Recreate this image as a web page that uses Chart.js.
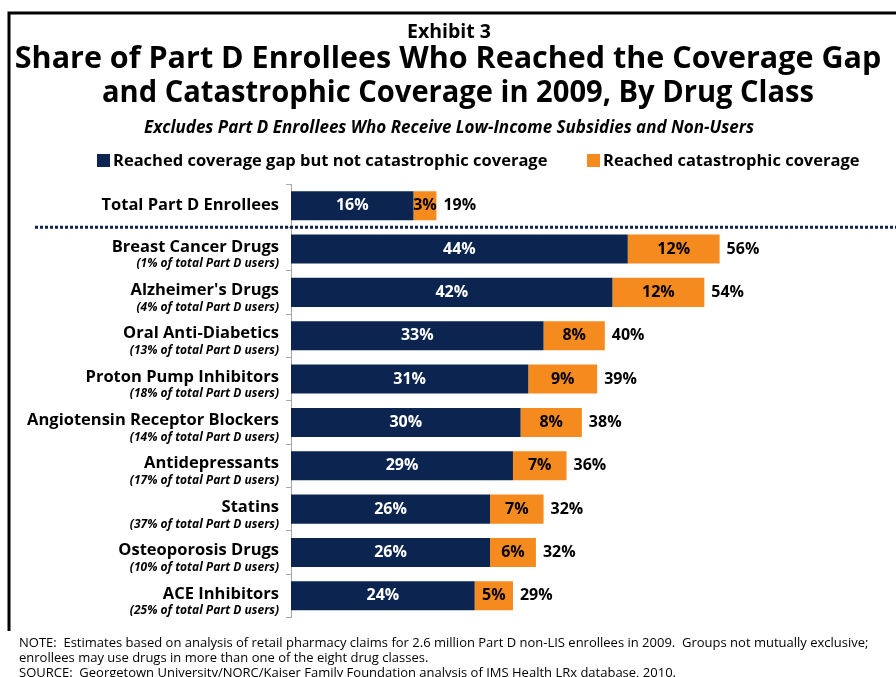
<!DOCTYPE html>
<html>
<head>
<meta charset="utf-8">
<script src="https://cdn.jsdelivr.net/npm/chart.js@4.4.1/dist/chart.umd.min.js"></script>
<style>
  html, body { margin: 0; padding: 0; background: #fff; }
  canvas { display: block; }
</style>
</head>
<body>
<canvas id="exhibit3" width="896" height="677"></canvas>
<script>
// --- data ---
const drugClasses = [
  "Total Part D Enrollees",
  "Breast Cancer Drugs",
  "Alzheimer's Drugs",
  "Oral Anti-Diabetics",
  "Proton Pump Inhibitors",
  "Angiotensin Receptor Blockers",
  "Antidepressants",
  "Statins",
  "Osteoporosis Drugs",
  "ACE Inhibitors"
];
const shareOfUsers = [
  "",
  "(1% of total Part D users)",
  "(4% of total Part D users)",
  "(13% of total Part D users)",
  "(18% of total Part D users)",
  "(14% of total Part D users)",
  "(17% of total Part D users)",
  "(37% of total Part D users)",
  "(10% of total Part D users)",
  "(25% of total Part D users)"
];
const gapOnly      = [16, 44, 42, 33, 31, 30, 29, 26, 26, 24];
const catastrophic = [3, 12, 12, 8, 9, 8, 7, 7, 6, 5];
const totals       = [19, 56, 54, 40, 39, 38, 36, 32, 32, 29];

const seriesNames = [
  "Reached coverage gap but not catastrophic coverage",
  "Reached catastrophic coverage"
];

const NAVY = "#0c2550";
const ORANGE = "#f58a1f";
const FONT = "'Open Sans', 'Noto Sans', sans-serif";

function drawText(ctx, str, x, y, font, color, align, maxWidth) {
  ctx.save();
  ctx.font = font;
  ctx.fillStyle = color;
  ctx.textAlign = align || "left";
  ctx.textBaseline = "middle";
  if (maxWidth) ctx.fillText(str, x, y, maxWidth);
  else ctx.fillText(str, x, y);
  ctx.restore();
}

const pagePlugin = {
  id: "page",
  beforeDraw(chart) {
    const ctx = chart.ctx;
    ctx.save();
    ctx.fillStyle = "#fff";
    ctx.fillRect(0, 0, chart.width, chart.height);
    // frame
    ctx.strokeStyle = "#000";
    ctx.lineWidth = 3;
    ctx.beginPath();
    ctx.moveTo(9, 631);
    ctx.lineTo(9, 13);
    ctx.lineTo(chart.width + 2, 13);
    ctx.stroke();
    ctx.restore();

    // headings
    drawText(ctx, "Exhibit 3", 449, 32, "bold 19.5px " + FONT, "#000", "center");
    drawText(ctx, "Share of Part D Enrollees Who Reached the Coverage Gap", 448, 59, "bold 30.5px " + FONT, "#000", "center");
    drawText(ctx, "and Catastrophic Coverage in 2009, By Drug Class", 458, 93, "bold 30.5px " + FONT, "#000", "center", 712);
    drawText(ctx, "Excludes Part D Enrollees Who Receive Low-Income Subsidies and Non-Users", 449, 128, "italic bold 17px " + FONT, "#000", "center");

    // legend
    const legendX = [97, 587];
    chart.data.datasets.forEach((ds, i) => {
      ctx.fillStyle = ds.backgroundColor;
      ctx.fillRect(legendX[i], 154, 13, 13);
      drawText(ctx, ds.label, legendX[i] + 16, 161, "bold 16.5px " + FONT, "#000", "left");
    });

    // notes
    const noteFont = "13px " + FONT;
    drawText(ctx, "NOTE:  Estimates based on analysis of retail pharmacy claims for 2.6 million Part D non-LIS enrollees in 2009.  Groups not mutually exclusive;", 19, 643, noteFont, "#000");
    drawText(ctx, "enrollees may use drugs in more than one of the eight drug classes.", 19, 658, noteFont, "#000");
    drawText(ctx, "SOURCE:  Georgetown University/NORC/Kaiser Family Foundation analysis of IMS Health LRx database, 2010.", 19, 673, noteFont, "#000");
  },
  afterDraw(chart) {
    const ctx = chart.ctx;
    const yScale = chart.scales.y;
    const xScale = chart.scales.x;

    // category labels with share-of-users line underneath
    drugClasses.forEach((name, i) => {
      const y = yScale.getPixelForValue(i);
      if (shareOfUsers[i]) {
        drawText(ctx, name, 279, y - 2, "bold 16.5px " + FONT, "#000", "right");
        drawText(ctx, shareOfUsers[i], 279, y + 15, "italic bold 12px " + FONT, "#000", "right");
      } else {
        drawText(ctx, name, 279, y, "bold 16.5px " + FONT, "#000", "right");
      }
    });

    // dotted separator below the total row
    const sepY = (yScale.getPixelForValue(0) + yScale.getPixelForValue(1)) / 2;
    ctx.save();
    ctx.strokeStyle = NAVY;
    ctx.lineWidth = 3;
    ctx.setLineDash([3, 2]);
    ctx.beginPath();
    ctx.moveTo(35, sepY);
    ctx.lineTo(chart.width, sepY);
    ctx.stroke();
    ctx.restore();

    // segment values and row totals
    const gapBars = chart.getDatasetMeta(0).data;
    const catBars = chart.getDatasetMeta(1).data;
    gapBars.forEach((bar, i) => {
      drawText(ctx, gapOnly[i] + "%", (bar.x + bar.base) / 2, bar.y, "bold 16px " + FONT, "#fff", "center");
      const cb = catBars[i];
      drawText(ctx, catastrophic[i] + "%", (cb.x + cb.base) / 2, cb.y, "bold 16px " + FONT, "#000", "center");
      drawText(ctx, totals[i] + "%", xScale.getPixelForValue(gapOnly[i] + catastrophic[i]) + 7, cb.y, "bold 16px " + FONT, "#000", "left");
    });
  }
};

new Chart(document.getElementById("exhibit3"), {
  type: "bar",
  data: {
    labels: drugClasses,
    datasets: [
      { label: seriesNames[0], data: gapOnly, backgroundColor: NAVY },
      { label: seriesNames[1], data: catastrophic, backgroundColor: ORANGE }
    ]
  },
  options: {
    indexAxis: "y",
    responsive: false,
    animation: false,
    devicePixelRatio: 1,
    layout: { padding: { left: 0, right: 8, top: 184, bottom: 59.5 } },
    datasets: { bar: { categoryPercentage: 1, barPercentage: 0.67 } },
    plugins: {
      legend: { display: false },
      tooltip: { enabled: false }
    },
    scales: {
      x: { stacked: true, display: false, min: 0, max: 78 },
      y: {
        stacked: true,
        afterFit(scale) { scale.width = 291; },
        ticks: { display: false },
        grid: {
          offset: true,
          drawOnChartArea: false,
          drawTicks: true,
          tickLength: 5,
          color: "#a6a6a6"
        },
        border: { display: true, color: "#a6a6a6", width: 1 }
      }
    }
  },
  plugins: [pagePlugin]
});
</script>
</body>
</html>
